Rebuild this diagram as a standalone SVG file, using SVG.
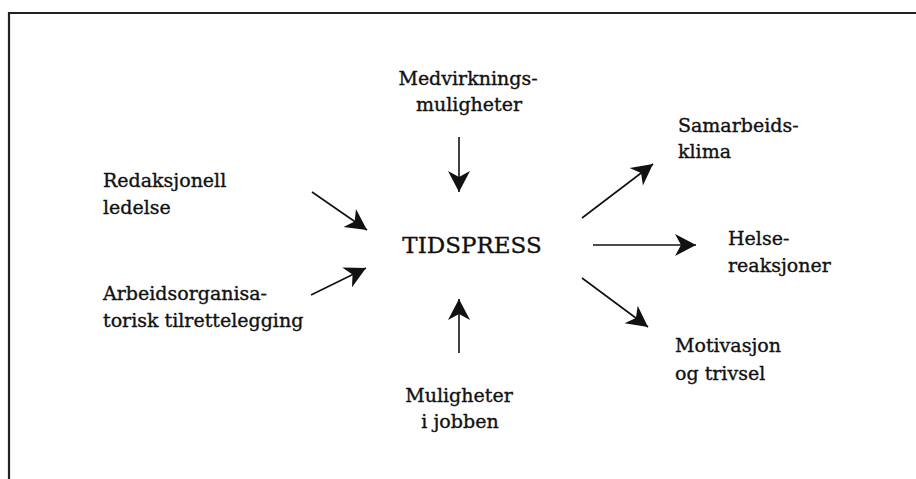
<svg xmlns="http://www.w3.org/2000/svg" width="916" height="479" viewBox="0 0 916 479">
<style>
.t{font-family:"DejaVu Serif","Liberation Serif",serif;font-size:19px;fill:#111;stroke:#111;stroke-width:0.35}
.big{font-size:23px}
.c{text-anchor:middle}
.ln{stroke:#111;stroke-width:1.6;fill:none}
</style>
<defs>
<marker id="ah" markerUnits="userSpaceOnUse" markerWidth="26" markerHeight="26" viewBox="-1 -13 26 26" refX="21" refY="0" orient="auto">
<path d="M21,0 L0,-11 L6,0 L0,11 Z" fill="#111"/>
</marker>
</defs>
<rect width="916" height="479" fill="#fff"/>
<path d="M9,479 V13 H916" stroke="#222" stroke-width="2.2" fill="none"/>
<g id="n-medvirkning"><text class="t c" x="468" y="85">Medvirknings-</text><text class="t c" x="469" y="111">muligheter</text></g>
<g id="n-tidspress"><text class="t big c" x="472" y="253">TIDSPRESS</text></g>
<g id="n-muligheter"><text class="t c" x="459" y="402">Muligheter</text><text class="t c" x="460" y="428">i jobben</text></g>
<g id="n-redaksjonell"><text class="t" x="103" y="187">Redaksjonell</text><text class="t" x="103" y="214">ledelse</text></g>
<g id="n-arbeid"><text class="t" x="103" y="300">Arbeidsorganisa-</text><text class="t" x="103" y="327">torisk tilrettelegging</text></g>
<g id="n-samarbeid"><text class="t" x="678" y="132">Samarbeids-</text><text class="t" x="678" y="158">klima</text></g>
<g id="n-helse"><text class="t" x="728" y="245">Helse-</text><text class="t" x="728" y="272">reaksjoner</text></g>
<g id="n-motivasjon"><text class="t" x="675" y="352">Motivasjon</text><text class="t" x="675" y="380">og trivsel</text></g>
<g id="connectors" class="ln">
<line x1="459" y1="137" x2="459" y2="192" marker-end="url(#ah)"/>
<line x1="459" y1="353" x2="459" y2="299" marker-end="url(#ah)"/>
<line x1="312" y1="192" x2="367" y2="230" marker-end="url(#ah)"/>
<line x1="311" y1="295" x2="366" y2="268" marker-end="url(#ah)"/>
<line x1="582" y1="218" x2="653" y2="164" marker-end="url(#ah)"/>
<line x1="593" y1="245" x2="696" y2="245" marker-end="url(#ah)"/>
<line x1="582" y1="278" x2="648" y2="327" marker-end="url(#ah)"/>
</g>
</svg>
